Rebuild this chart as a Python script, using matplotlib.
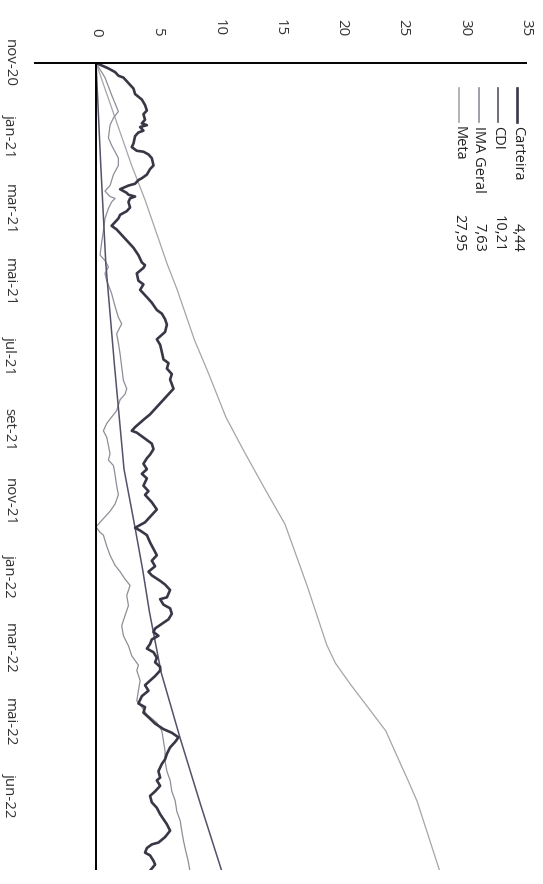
import matplotlib.pyplot as plt

# dias uteis desde nov-20 (eixo vertical) e rentabilidade acumulada em %
dias_carteira = [0, 3, 5, 7, 8, 11, 14, 17, 20, 23, 26, 28, 31, 33, 34, 35, 37, 38, 40, 44,
                 46, 48, 48.5, 50, 52, 56, 58, 61, 63, 64, 66, 67, 69, 70, 71, 72, 73, 74, 76, 79,
                 81, 83, 85, 87, 89, 91, 95, 98, 101, 105, 109, 110.5, 112, 115, 119, 121, 124, 128,
                 131, 135, 137, 140, 143, 147, 151, 154, 158, 162, 164, 167, 170, 173, 178, 181,
                 184, 188, 192, 195, 199, 201, 202, 204, 206, 208, 211, 214, 216, 219, 222, 224.5,
                 227, 231, 234, 236, 240, 244, 247, 251, 254, 255.5, 258, 262, 265.5, 269, 272,
                 275, 278, 280, 283, 285, 288, 292, 293, 296, 298, 301, 304, 306.5, 309, 311, 313,
                 315, 317.5, 320, 322, 325, 327.5, 330, 332, 335, 337.5, 340, 343, 346, 350, 352,
                 355, 357.5, 361, 364, 366, 368.5, 371, 374, 377.5, 380.5, 383, 387, 390.5, 392,
                 395, 398, 400.5, 404, 407, 410.5, 416, 419.5, 423, 426, 427, 429, 431.5, 433,
                 436, 438, 441]
carteira = [0, 1.01, 1.55, 1.83, 2.23, 2.64, 3.05, 3.18, 3.73, 3.99, 4.14, 3.86, 3.99, 3.73,
            4.14, 3.59, 3.86, 3.45, 3.18, 3.05, 2.91, 3.32, 3.86, 4.27, 4.54, 4.68, 4.40, 4.14,
            3.73, 3.45, 3.18, 2.64, 1.96, 2.23, 2.50, 2.64, 3.18, 2.77, 2.64, 2.77, 2.50, 1.96,
            1.82, 1.55, 1.27, 1.68, 2.23, 2.64, 3.05, 3.45, 3.73, 3.99, 3.86, 3.32, 3.45, 3.86,
            3.59, 4.14, 4.54, 4.95, 5.36, 5.62, 5.77, 5.62, 4.95, 5.22, 5.36, 5.49, 5.90, 5.77,
            6.17, 6.03, 6.31, 5.90, 5.49, 4.95, 4.40, 3.86, 3.18, 2.91, 3.32, 3.73, 4.14, 4.54,
            4.68, 4.40, 4.14, 3.86, 4.14, 3.73, 4.14, 3.86, 4.27, 3.99, 4.54, 4.95, 4.54, 3.99,
            3.18, 3.59, 4.14, 4.40, 4.68, 4.95, 4.54, 4.81, 4.27, 4.54, 5.22, 5.62, 6.03, 5.77,
            5.22, 5.49, 6.03, 6.17, 5.90, 5.36, 4.81, 4.68, 5.08, 4.54, 4.40, 4.14, 4.68, 4.95,
            4.81, 5.22, 5.22, 4.81, 4.40, 3.99, 4.27, 3.73, 3.45, 3.99, 3.86, 4.27, 4.81, 5.49,
            6.17, 6.71, 6.44, 6.03, 5.77, 5.62, 5.36, 5.08, 5.22, 4.95, 5.22, 4.81, 4.40, 4.54,
            4.95, 5.22, 5.77, 6.03, 5.62, 5.08, 4.54, 4.14, 3.99, 4.40, 4.68, 4.81, 4.44]

dias_ima = [0, 8, 17.5, 26.5, 30, 34, 41, 45, 52, 56, 61, 67, 70, 73, 74, 76, 79.5, 85, 92,
            98, 105, 108, 111.5, 115, 119, 126, 133, 139, 142.5, 148, 153, 159, 166, 173.5,
            178, 181, 184, 190, 193.5, 197, 201, 204.5, 209, 213.5, 217, 220, 225, 231, 236,
            241, 245, 250, 253.5, 256.5, 258, 264, 269, 274.5, 278, 282, 285.5, 291, 296.5,
            302, 307.5, 313, 318.5, 324, 329, 332, 337.5, 343, 348.5, 352, 356, 360.5, 365,
            370.5, 376, 381.5, 387, 392, 398, 403, 409, 414, 420, 425, 430.5, 436, 441]
ima_geral = [0, 0.73, 1.27, 1.82, 1.42, 1.14, 1.01, 1.27, 1.82, 1.82, 1.42, 1.14, 0.73, 1.14,
             1.55, 1.27, 1.01, 0.73, 0.60, 0.46, 0.33, 0.73, 1.01, 0.73, 0.87, 1.27, 1.55, 1.82,
             2.09, 1.68, 1.82, 1.96, 2.09, 2.23, 2.50, 2.36, 1.96, 1.68, 1.27, 0.87, 0.60, 0.87,
             1.01, 1.14, 1.01, 1.42, 1.55, 1.68, 1.82, 1.55, 1.14, 0.46, 0.0, 0.33, 0.60, 0.87,
             1.14, 1.55, 1.96, 2.36, 2.77, 2.50, 2.64, 2.36, 2.09, 2.23, 2.64, 2.91, 3.45, 3.32,
             3.59, 3.45, 3.32, 3.73, 4.14, 4.95, 5.36, 5.49, 5.62, 5.62, 5.77, 6.03, 6.17, 6.44,
             6.58, 6.85, 6.99, 7.12, 7.30, 7.50, 7.63]

dias_cdi = [0, 55, 110, 165, 222, 254, 277, 300, 333, 369, 405, 441]
cdi = [0, 0.38, 0.80, 1.50, 2.28, 3.18, 3.80, 4.35, 5.30, 6.85, 8.50, 10.21]

dias_meta = [0, 56, 75, 110, 124, 151.5, 169.5, 193.5, 211.5, 232, 252, 286, 318, 328, 340,
             352.5, 365, 382, 392.5, 403.5, 441]
meta = [0, 2.9, 4.0, 5.8, 6.61, 8.02, 9.15, 10.57, 11.99, 13.68, 15.38, 17.2, 18.78, 19.49,
        20.76, 22.18, 23.59, 24.72, 25.43, 26.14, 27.95]

meses = ["nov-20", "jan-21", "mar-21", "mai-21", "jul-21", "set-21", "nov-21",
         "jan-22", "mar-22", "mai-22", "jun-22"]
dias_meses = [0, 40, 80, 120, 160, 200, 240, 280, 320, 360, 400]

nomes = ["Carteira", "CDI", "IMA Geral", "Meta"]
finais = ["4,44", "10,21", "7,63", "27,95"]
cores = ["#3b3646", "#55516a", "#8f8d97", "#a5a4ac"]
larguras = [1.9, 1.1, 0.9, 0.9]

plt.rcParams['font.family'] = ['Open Sans', 'DejaVu Sans']

fig = plt.figure(figsize=(5.43, 8.84), dpi=100)
ax = fig.add_axes([0.0637, 0.0158, 0.905, 0.913])

ax.plot(meta, dias_meta, color=cores[3], lw=larguras[3])
ax.plot(ima_geral, dias_ima, color=cores[2], lw=larguras[2])
ax.plot(cdi, dias_cdi, color=cores[1], lw=larguras[1])
ax.plot(carteira, dias_carteira, color=cores[0], lw=larguras[0], solid_joinstyle='round')
ax.axvline(0, color='black', lw=1.4)

ax.set_xlim(-5, 35)
ax.set_ylim(441, 0)

for s in ['left', 'right', 'bottom']:
    ax.spines[s].set_visible(False)
ax.spines['top'].set_linewidth(1.4)

ax.xaxis.tick_top()
ax.set_xticks(range(0, 36, 5))
ax.tick_params(axis='x', length=0, pad=19, labelsize=10.8, labelcolor='#333333',
               labelrotation=-90)
ax.set_yticks(dias_meses, labels=meses)
ax.tick_params(axis='y', length=0, pad=13, labelsize=10.8, labelcolor='#333333',
               labelrotation=-90)
for t in ax.get_yticklabels():
    t.set_va('center')

# legenda girada, montada a mao
pos_x = [0.982, 0.943, 0.904, 0.864]
for px, nome, final, cor, lw in zip(pos_x, nomes, finais, cores, larguras):
    ax.plot([px, px], [0.969, 0.927], transform=ax.transAxes, color=cor,
            lw=max(lw, 1.2), clip_on=False)
    ax.text(px, 0.922, nome, transform=ax.transAxes, rotation=-90, ha='center',
            va='top', fontsize=10.5, color='#222222')
    ax.text(px, 0.766, final, transform=ax.transAxes, rotation=-90, ha='center',
            va='bottom', fontsize=10.5, color='#222222')

fig.savefig("out.png", dpi=100)
